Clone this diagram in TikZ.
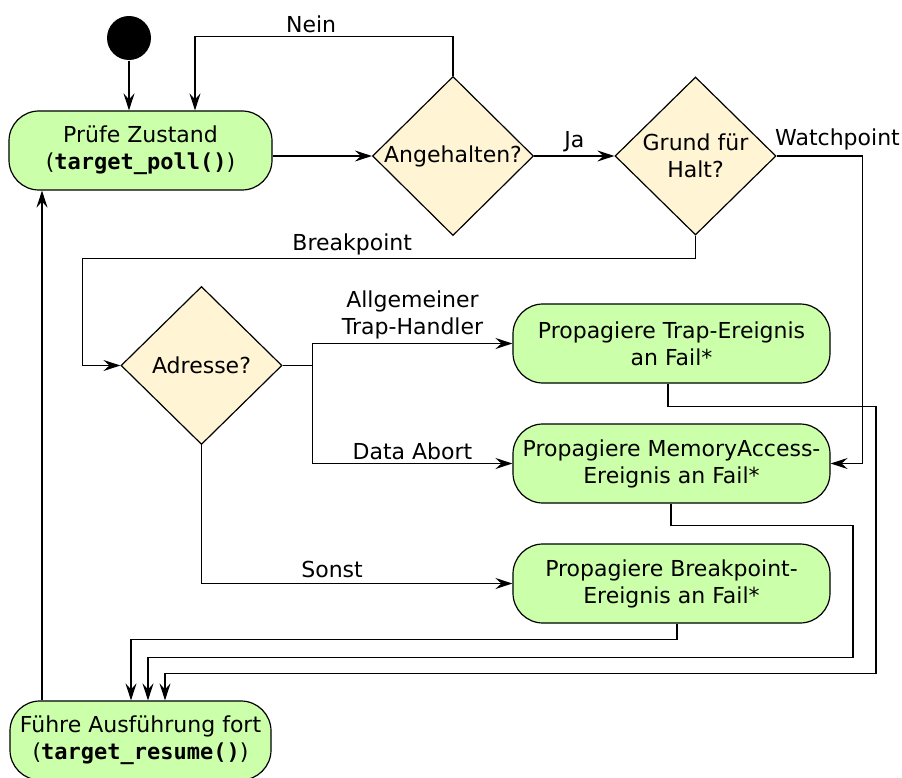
\documentclass[tikz,border=0pt]{standalone}
\usepackage{fontspec}
\setmainfont{DejaVu Sans}
\setmonofont{DejaVu Sans Mono}
\usetikzlibrary{shapes.geometric,arrows.meta}
\definecolor{actgreen}{HTML}{CCFFAA}
\definecolor{decyellow}{HTML}{FFF4D4}

\begin{document}
\begin{tikzpicture}[x=1pt, y=-1pt, line width=1.2pt,
        >={Stealth[length=17pt,width=11pt,inset=6pt]},
        every node/.style={font=\fontsize{22}{27}\selectfont},
        action/.style={rectangle, rounded corners=30pt, draw, fill=actgreen, align=center, minimum height=79pt, inner sep=0pt},
        decision/.style={diamond, draw, fill=decyellow, align=center, inner sep=0pt, minimum width=161pt, minimum height=158pt}]

        \useasboundingbox (0,0) rectangle (902,778);

        % nodes
        \node[circle, fill=black, minimum size=44pt, inner sep=0pt] (start) at (129,38) {};
        \node[action, minimum width=263pt] (poll) at (140.5,150.5) {Prüfe Zustand\\(\texttt{\textbf{target\_poll()}})};
        \node[decision] (halt) at (453,156) {Angehalten?};
        \node[decision] (grund) at (695.5,156) {Grund für\\Halt?};
        \node[decision] (addr) at (201.5,365.5) {Adresse?};
        \node[action, minimum width=317pt] (trap) at (671.5,343.5) {Propagiere Trap-Ereignis\\an Fail*};
        \node[action, minimum width=317pt] (mem) at (671.5,463.5) {Propagiere MemoryAccess-\\Ereignis an Fail*};
        \node[action, minimum width=317pt] (bpev) at (671.5,583.5) {Propagiere Breakpoint-\\Ereignis an Fail*};
        \node[action, minimum width=261pt] (resume) at (140.5,740.5) {Führe Ausführung fort\\(\texttt{\textbf{target\_resume()}})};

        % polling loop
        \draw[->] (start) -- (start |- poll.north);
        \draw[->] (poll.east |- halt.west) -- (halt.west);
        \draw[->] (halt.north) -- ++(0,-39) -| node[pos=0.275, above] {Nein} ([xshift=54.5pt]poll.north);
        \draw[->] (halt.east) -- node[above] {Ja} (grund.west);

        % edges from grund
        \draw[->] (grund.east) -- node[pos=0, anchor=south west, inner sep=3pt, xshift=-5pt, yshift=2pt] {Watchpoint} ++(86,0) |- (mem.east);
        \draw[->] (grund.south) -- ++(0,23) -| node[pos=0.28, above] {Breakpoint} ([xshift=-38pt]addr.west) -- (addr.west);

        % edges from addr
        \draw[->] (addr.east) -- ++(30,0) |- node[pos=0.75, above, align=center] {Allgemeiner\\Trap-Handler} (trap.west);
        \draw[->] (addr.east) -- ++(30,0) |- node[pos=0.75, above] {Data Abort} (mem.west);
        \draw[->] (addr.south) |- node[pos=0.71, above, yshift=2pt] {Sonst} (bpev.west);

        % edges to resume
        \draw[->] ([xshift=-3.5pt]trap.south) -- ++(0,23) -| ++(208,267) -| ([xshift=24.5pt]resume.north);
        \draw[->] ([xshift=-0.5pt]mem.south) -- ++(0,22) -| ++(182,132) -| ([xshift=7.5pt]resume.north);
        \draw[->] ([xshift=5.5pt]bpev.south) -- ++(0,16) -| ([xshift=-9.5pt]resume.north);
        \draw[->] ([xshift=-98.5pt]resume.north) -- ([xshift=-98.5pt]poll.south);

\end{tikzpicture}
\end{document}
